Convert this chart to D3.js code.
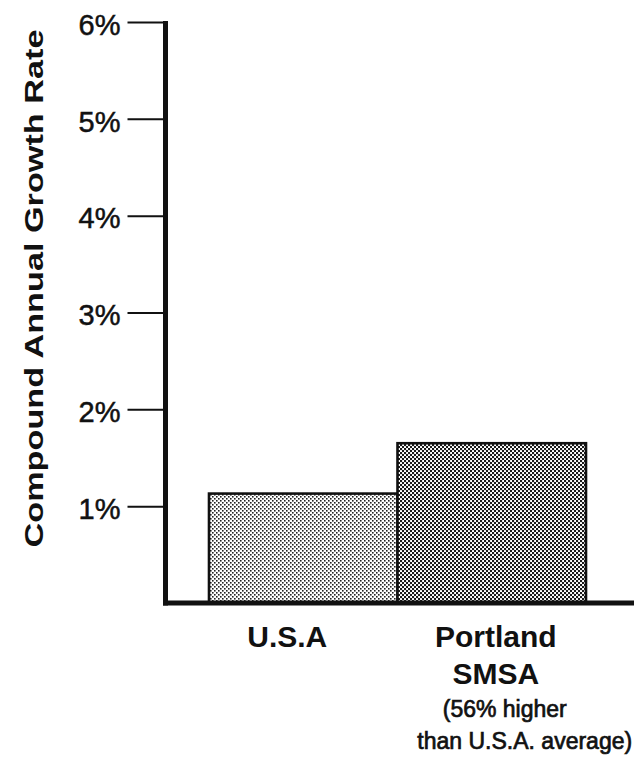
<!DOCTYPE html>
<html><head><meta charset="utf-8">
<script src="https://cdn.jsdelivr.net/npm/d3@7"></script>
<style>
html,body{margin:0;padding:0;background:#fff;}
svg{display:block;}
text{font-family:"Liberation Sans",Arial,Helvetica,sans-serif;fill:#111;}
</style></head>
<body>
<script>
const categories = ["U.S.A", "Portland SMSA"];
const values = [1.13, 1.65];
const tickValues = [1, 2, 3, 4, 5, 6];
const tickLabels = ["1%", "2%", "3%", "4%", "5%", "6%"];
const yTitle = "Compound Annual Growth Rate";
const catLabelLines = [["U.S.A"], ["Portland", "SMSA"]];
const noteLines = ["(56% higher", "than U.S.A. average)"];

const W = 634, H = 767;
const svg = d3.select("body").append("svg").attr("width", W).attr("height", H);

const defs = svg.append("defs");
const p1 = defs.append("pattern").attr("id","dotsLight").attr("patternUnits","userSpaceOnUse")
  .attr("width",4).attr("height",4);
p1.append("rect").attr("width",4).attr("height",4).attr("fill","#fff");
p1.append("rect").attr("x",0).attr("y",0).attr("width",1.6).attr("height",1.6).attr("fill","#222");
p1.append("rect").attr("x",2).attr("y",2).attr("width",1.6).attr("height",1.6).attr("fill","#222");
const p2 = defs.append("pattern").attr("id","dotsDark").attr("patternUnits","userSpaceOnUse")
  .attr("width",4).attr("height",4);
p2.append("rect").attr("width",4).attr("height",4).attr("fill","#fff");
p2.append("rect").attr("x",0).attr("y",0).attr("width",2.1).attr("height",2.1).attr("fill","#1a1a1a");
p2.append("rect").attr("x",2).attr("y",2).attr("width",2.1).attr("height",2.1).attr("fill","#1a1a1a");

const y = d3.scaleLinear().domain([0, 6]).range([603, 22]);
const x = d3.scaleBand().domain(categories).range([209, 586]).paddingInner(0).paddingOuter(0);
const axisX = 165.5;

const fills = ["url(#dotsLight)", "url(#dotsDark)"];
svg.selectAll("rect.bar").data(categories).join("rect")
  .attr("class","bar")
  .attr("x", d => x(d))
  .attr("width", x.bandwidth())
  .attr("y", (d,i) => y(values[i]))
  .attr("height", (d,i) => y(0) - y(values[i]))
  .attr("fill", (d,i) => fills[i])
  .attr("stroke", "#111").attr("stroke-width", 2.6);

const yAxis = d3.axisLeft(y).tickValues(tickValues)
  .tickFormat((d,i) => tickLabels[i]).tickSize(38).tickSizeOuter(0).tickPadding(7);
const gy = svg.append("g").attr("transform", `translate(${axisX},0)`).call(yAxis);
gy.select(".domain").remove();
gy.selectAll(".tick line").attr("stroke","#111").attr("stroke-width",2);
gy.selectAll(".tick text").attr("font-size", 29).attr("fill","#111")
  .attr("stroke","#111").attr("stroke-width",0.5)
  .attr("font-family","'Liberation Sans',Arial,sans-serif")
  .attr("dy","0.42em");

svg.append("line").attr("x1", axisX).attr("x2", axisX).attr("y1", y(6)-1).attr("y2", y(0)+2.5)
  .attr("stroke","#111").attr("stroke-width",5);
svg.append("line").attr("x1", axisX-2.5).attr("x2", W).attr("y1", y(0)).attr("y2", y(0))
  .attr("stroke","#111").attr("stroke-width",5);

svg.append("text")
  .attr("transform", `translate(43,${(y(6)+y(0))/2 - 24}) rotate(-90)`)
  .attr("text-anchor","middle").attr("font-size",26).attr("font-weight","bold")
  .attr("textLength", 518).attr("lengthAdjust","spacingAndGlyphs")
  .text(yTitle);

const labOffsets = [-16, 4];
catLabelLines.forEach((lines, i) => {
  const cx = x(categories[i]) + x.bandwidth()/2 + labOffsets[i];
  lines.forEach((ln, j) => {
    svg.append("text").attr("x", cx).attr("y", 647 + j*37)
      .attr("text-anchor","middle").attr("font-size",30).attr("font-weight","bold")
      .text(ln);
  });
});
const nx = x(categories[1]) + x.bandwidth()/2;
noteLines.forEach((ln, j) => {
  svg.append("text").attr("x", nx + 13 + j*20).attr("y", 717 + j*32)
    .attr("text-anchor","middle").attr("font-size",23)
    .attr("stroke","#111").attr("stroke-width",0.7)
    .text(ln);
});
</script>
</body></html>
